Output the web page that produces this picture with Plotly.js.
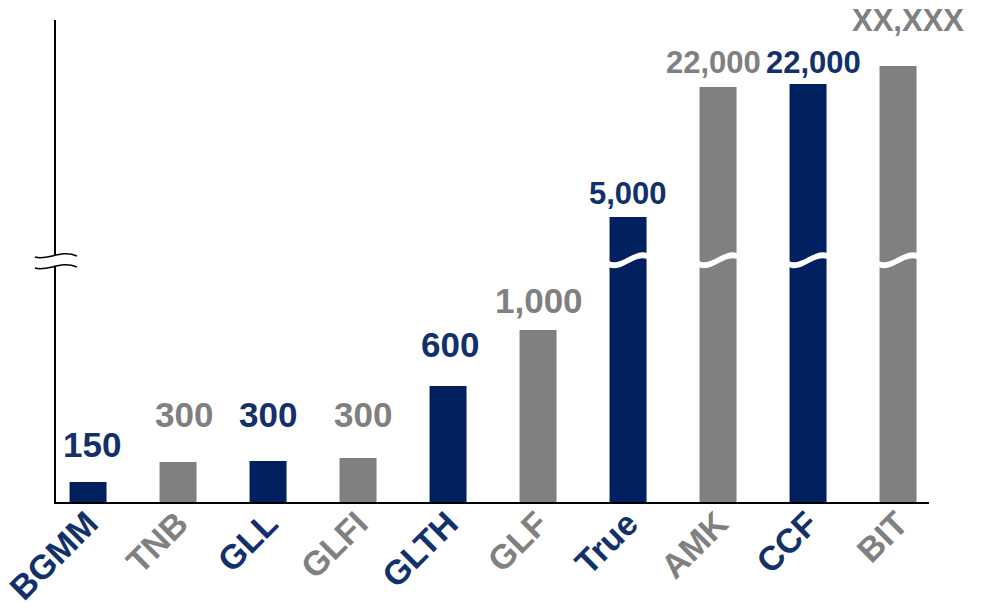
<!DOCTYPE html>
<html>
<head>
<meta charset="utf-8">
<script src="https://cdn.plot.ly/plotly-3.0.1.min.js"></script>
<style>html,body{margin:0;padding:0;background:#fff;}#chart{width:998px;height:607px;}</style>
</head>
<body>
<div id="chart"></div>
<script>
// ---- data ----
const categories = ['BGMM', 'TNB', 'GLL', 'GLFI', 'GLTH', 'GLF', 'True', 'AMK', 'CCF', 'BIT'];
const values = [150, 300, 300, 300, 600, 1000, 5000, 22000, 22000, null]; // null = "XX,XXX"
// drawn bar heights on the chart's broken (non-linear) scale
const barHeights = [20, 40, 41, 44, 116, 172, 285, 415, 418, 436];

// ---- style ----
const NAVY = '#002060', NAVY_TXT = '#12306a', GRAY = '#808080', GRAY_TXT = '#808080';
const FONT = 'Liberation Sans, Arial, sans-serif';
const labelLift = [16, 26, 25, 22, 20, 8, 4, 5, 2, 26];
const labelNudge = [4, 6, 0, 5, 2, 1, 0, -5, 5, 10];
const breakLevel = 242;
const L = 56, R = 69, T = 20, B = 105, W = 998, H = 607;
const plotW = W - L - R, plotH = H - T - B;

const idx = categories.map((_, i) => i);
const isNavy = i => i % 2 === 0;
const barColors = idx.map(i => isNavy(i) ? NAVY : GRAY);
const txtColors = idx.map(i => isNavy(i) ? NAVY_TXT : GRAY_TXT);
const fmt = v => v === null ? 'XX,XXX' : v.toLocaleString('en-US');

const BAR_W = 0.411;
const trace = {
  type: 'bar', x: idx, y: barHeights, width: BAR_W,
  marker: {color: barColors, line: {width: 0}},
  hoverinfo: 'skip', showlegend: false
};

const annotations = idx.map(i => ({
  x: i, y: barHeights[i], xref: 'x', yref: 'y', yanchor: 'bottom', xanchor: 'center',
  yshift: labelLift[i], xshift: labelNudge[i], showarrow: false, text: fmt(values[i]),
  font: {family: FONT, size: (values[i] === null || values[i] >= 5000) ? 31 : 35, color: txtColors[i], weight: 'bold'}
}));

// helpers for decorative shapes given in screen pixels
const px = x => (x - L) / plotW;
const py = y => (H - B - y) / plotH;
const P = pts => pts.map(p => p[0] + ',' + p[1]).join(' ');

const shapes = [];
// white wavy break band across tall bars
idx.forEach(i => {
  if (barHeights[i] <= breakLevel) return;
  const xl = i - BAR_W / 2 - 0.01, xr = i + BAR_W / 2 + 0.01, w = xr - xl, c = breakLevel;
  const a = xl + 0.35 * w, b = xl + 0.65 * w;
  shapes.push({
    type: 'path', xref: 'x', yref: 'y', layer: 'above',
    path: `M ${xl},${c - 1} C ${a},${c - 7} ${b},${c + 12} ${xr},${c + 7} L ${xr},${c + 1} C ${b},${c + 6} ${a},${c - 13} ${xl},${c - 7} Z`,
    fillcolor: '#ffffff', line: {width: 0}
  });
});
// y-axis break symbol
const wave = y0 => [[px(35), py(y0 + 2)], [px(48), py(y0 + 6)], [px(60), py(y0 - 6)], [px(77), py(y0 + 1)]];
const w1 = wave(255), w2 = wave(266);
shapes.push({
  type: 'path', xref: 'paper', yref: 'paper', layer: 'above',
  path: `M ${P([w1[0]])} C ${P(w1.slice(1))} L ${P([w2[3]])} C ${P([w2[2], w2[1], w2[0]])} Z`,
  fillcolor: '#ffffff', line: {width: 0}
});
[w1, w2].forEach(wv => shapes.push({
  type: 'path', xref: 'paper', yref: 'paper', layer: 'above',
  path: `M ${P([wv[0]])} C ${P(wv.slice(1))}`,
  line: {color: '#000000', width: 1.6}
}));
// orange chevron fragment at left edge
shapes.push({
  type: 'path', xref: 'paper', yref: 'paper', layer: 'above',
  path: `M ${P([[px(0), py(327)], [px(2), py(327)], [px(7.5), py(340)], [px(2), py(353)], [px(0), py(353)]])} Z`,
  fillcolor: '#ED7D31', line: {width: 0}
});

const layout = {
  width: W, height: H, autosize: false,
  margin: {l: L, r: R, t: T, b: B, pad: 0},
  paper_bgcolor: '#ffffff', plot_bgcolor: '#ffffff',
  font: {family: FONT},
  xaxis: {
    type: 'linear', range: [-0.356, 9.344], fixedrange: true,
    tickvals: idx,
    ticktext: idx.map(i => `<span style="color:${txtColors[i]}">${categories[i]}</span>`),
    tickangle: -45, tickfont: {family: FONT, size: 34, weight: 'bold'},
    ticklabelstandoff: -14, ticklabeloverflow: 'allow',
    showline: true, linecolor: '#000000', linewidth: 2,
    ticks: '', showgrid: false, zeroline: false
  },
  yaxis: {
    range: [0, plotH], fixedrange: true,
    showline: true, linecolor: '#000000', linewidth: 2,
    showticklabels: false, ticks: '', showgrid: false, zeroline: false
  },
  annotations: annotations,
  shapes: shapes
};

Plotly.newPlot('chart', [trace], layout, {displayModeBar: false, staticPlot: true});
</script>
</body>
</html>
